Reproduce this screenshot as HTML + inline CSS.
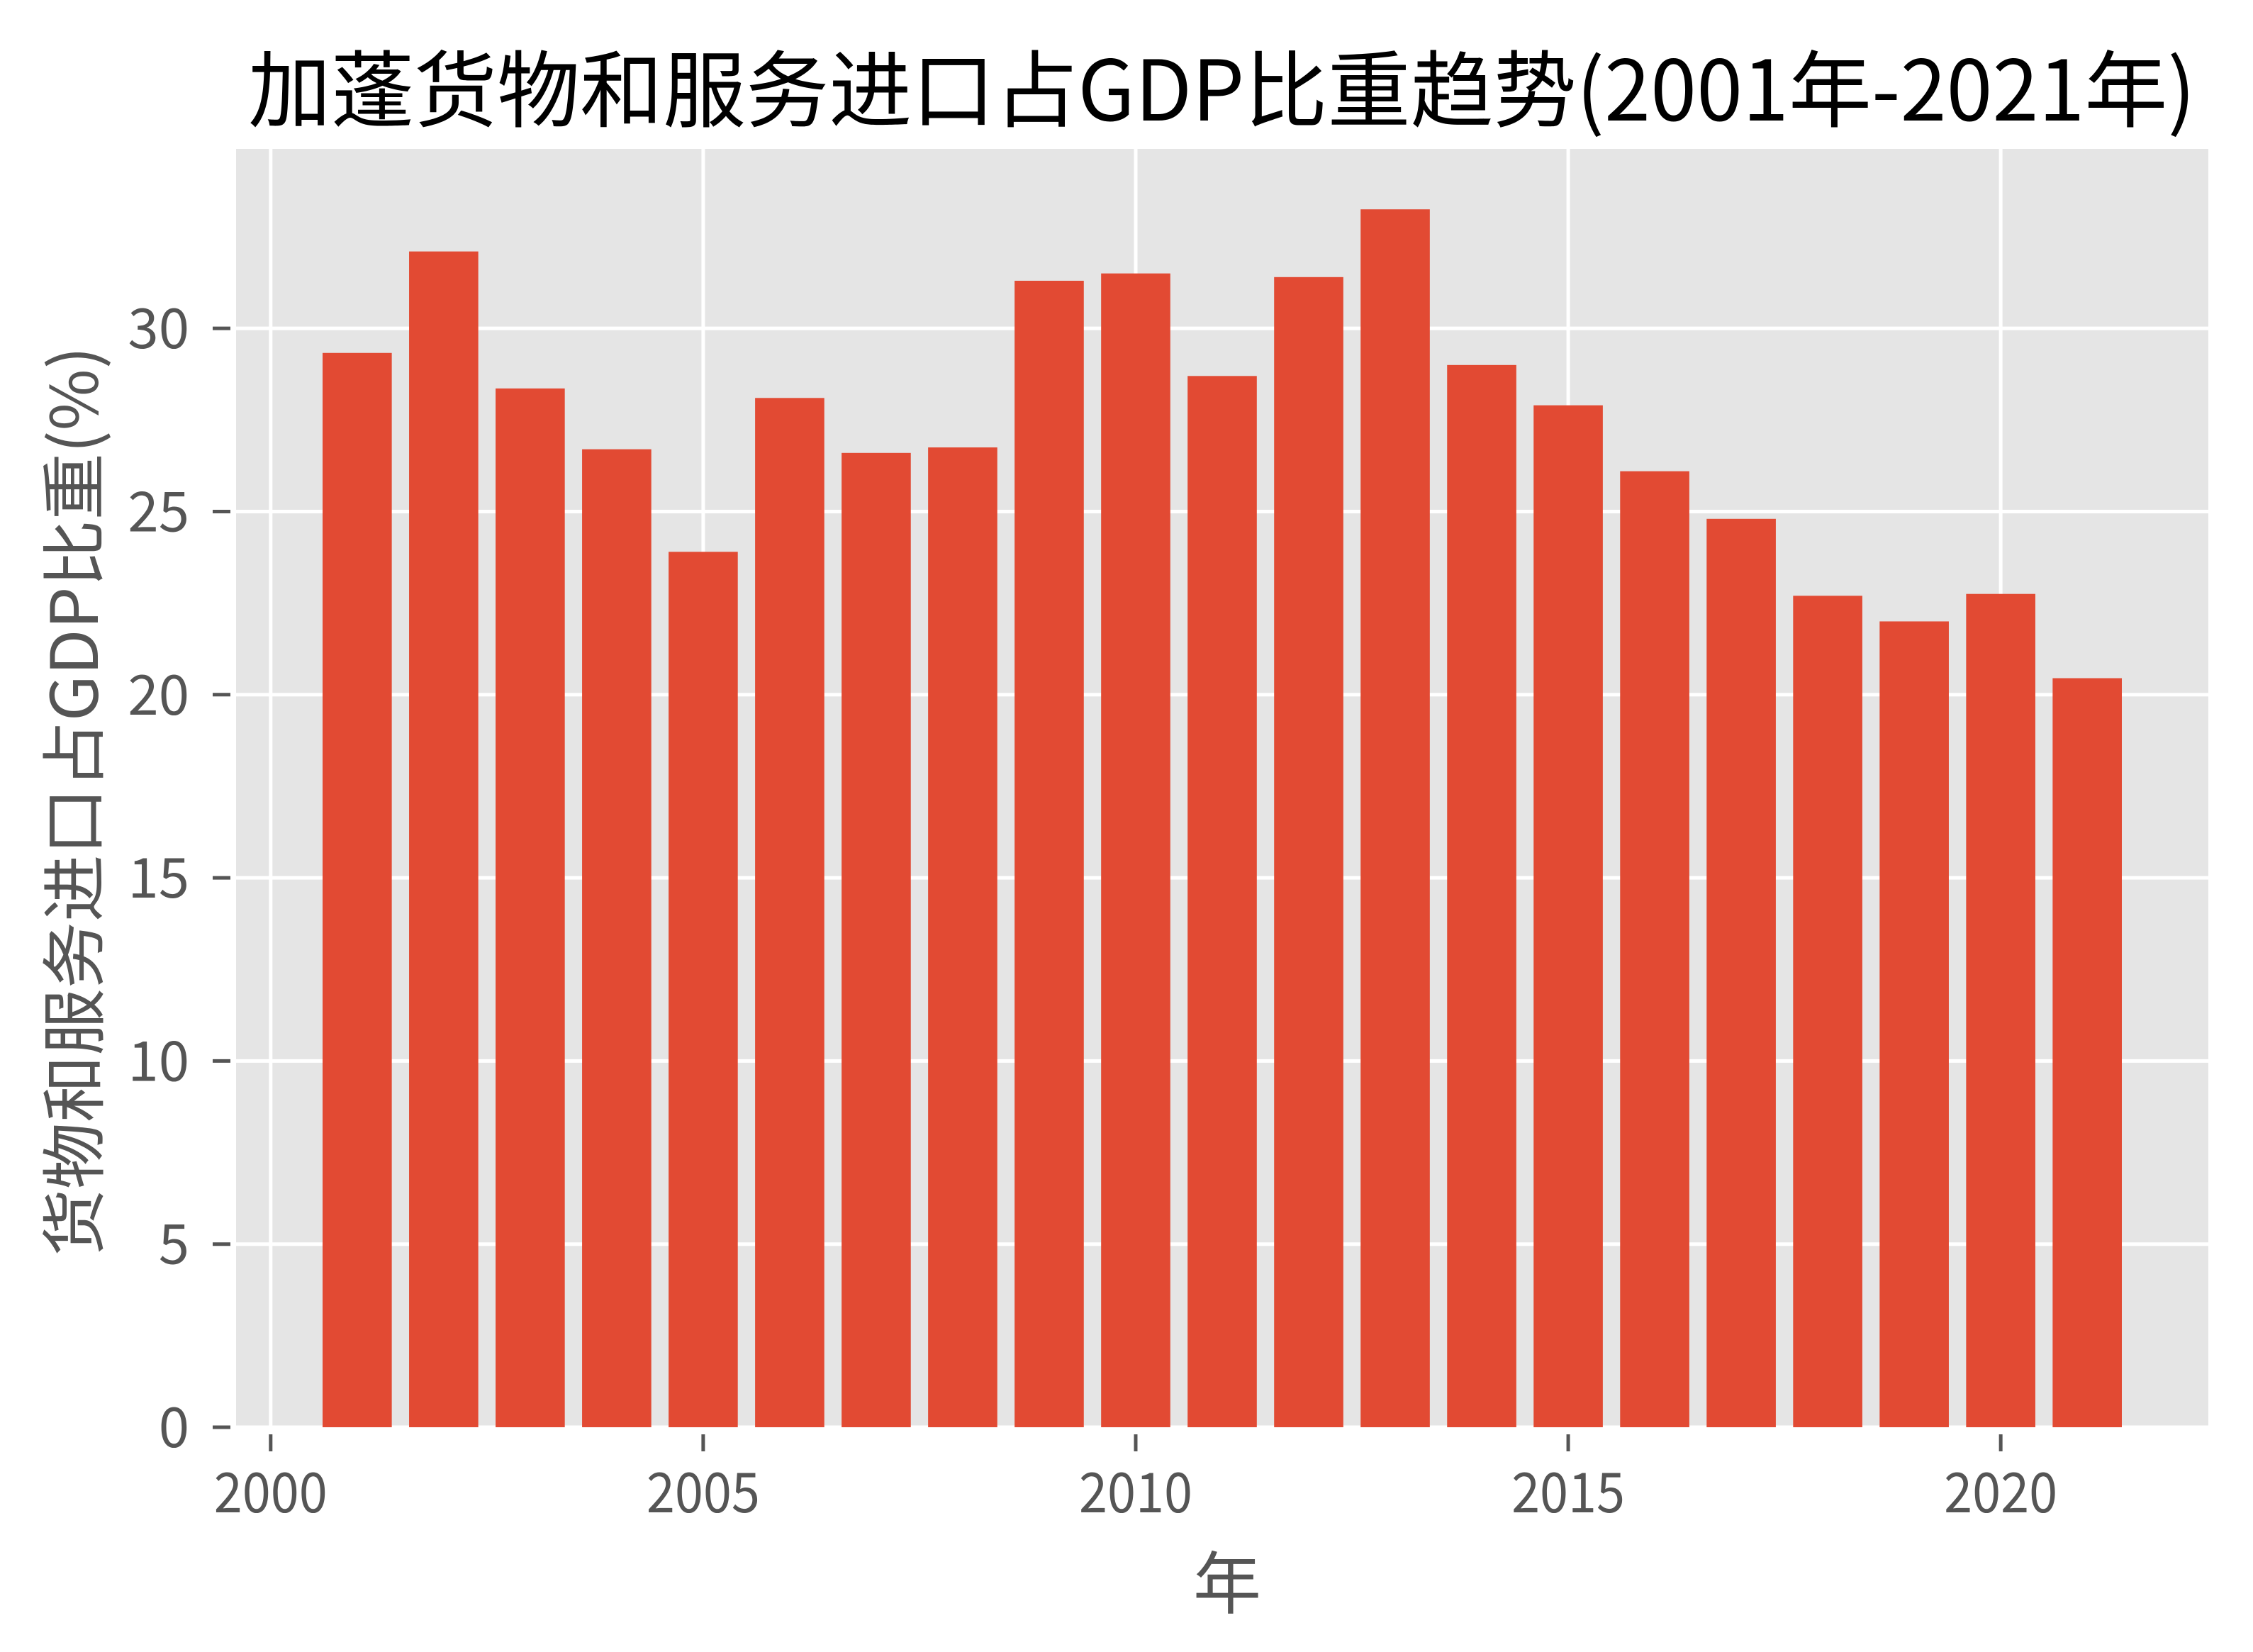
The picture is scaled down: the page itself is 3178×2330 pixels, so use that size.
<!DOCTYPE html>
<html><head><meta charset="utf-8"><style>
html,body{margin:0;padding:0;background:#fff;}
svg{display:block;}
text{font-family:"WenQuanYi Zen Hei","Noto Sans CJK SC",sans-serif;}
</style></head><body>
<svg id="chart" width="3178" height="2330" viewBox="0 0 3178 2330" xmlns="http://www.w3.org/2000/svg">
<rect x="333" y="210" width="2782" height="1803" fill="#e5e5e5"/>
<g id="grid"></g>
<g id="bars"></g>
<g id="ticks"></g>
<text x="350" y="170" font-size="118" fill="#000" textLength="2747" lengthAdjust="spacingAndGlyphs">加蓬货物和服务进口占GDP比重趋势(2001年-2021年)</text>
<text x="1731" y="2268" font-size="96" fill="#555" text-anchor="middle">年</text>
<text transform="translate(138,1130) rotate(-90)" font-size="92" fill="#555" text-anchor="middle" textLength="1283" lengthAdjust="spacingAndGlyphs">货物和服务进口占GDP比重(%)</text>
</svg>
<script>
const years = [2001,2002,2003,2004,2005,2006,2007,2008,2009,2010,2011,2012,2013,2014,2015,2016,2017,2018,2019,2020,2021];
const values = [29.33,32.1,28.36,26.7,23.9,28.1,26.6,26.75,31.3,31.5,28.7,31.4,33.25,29.0,27.9,26.1,24.8,22.7,22.0,22.75,20.45];
const xTicks = [2000,2005,2010,2015,2020];
const yTicks = [0,5,10,15,20,25,30];
const NS='http://www.w3.org/2000/svg';
const L=333,R=3115,T=210,B=2013;
const xMin=1999.6,xMax=2022.4,yMax=34.9;
function xs(v){return L+(v-xMin)/(xMax-xMin)*(R-L);}
function ys(v){return B-v/yMax*(B-T);}
function mk(tag,attrs,parent){const e=document.createElementNS(NS,tag);for(const k in attrs)e.setAttribute(k,attrs[k]);parent.appendChild(e);return e;}
const grid=document.getElementById('grid'),bars=document.getElementById('bars'),ticks=document.getElementById('ticks');
xTicks.forEach(t=>{
  const g=mk('line',{x1:xs(t),x2:xs(t),y1:T,y2:B,stroke:'#fff','stroke-width':5},grid);
  
  
  const tk=mk('line',{x1:xs(t),x2:xs(t),y1:B+10,y2:B+34,stroke:'#555','stroke-width':5},ticks);
  
  
  const lb=mk('text',{x:xs(t),y:2133,'font-size':78,fill:'#555','text-anchor':'middle',textLength:160,lengthAdjust:'spacingAndGlyphs'},ticks);
  lb.textContent=t;
  
  
});
yTicks.forEach(t=>{
  const g=mk('line',{x1:L,x2:R,y1:ys(t),y2:ys(t),stroke:'#fff','stroke-width':5},grid);
  
  
  const tk=mk('line',{x1:300,x2:325,y1:ys(t),y2:ys(t),stroke:'#555','stroke-width':5},ticks);
  
  
  const lb=mk('text',{x:267,y:ys(t)+28,'font-size':78,fill:'#555','text-anchor':'end'},ticks);
  lb.textContent=t;
  
  
});
years.forEach((yr,i)=>{
  const x0=xs(yr-0.4),x1=xs(yr+0.4);
  const r=mk('rect',{x:x0,y:ys(values[i]),width:x1-x0,height:B-ys(values[i]),fill:'#e24a33'},bars);
  
  
});
</script>
</body></html>
